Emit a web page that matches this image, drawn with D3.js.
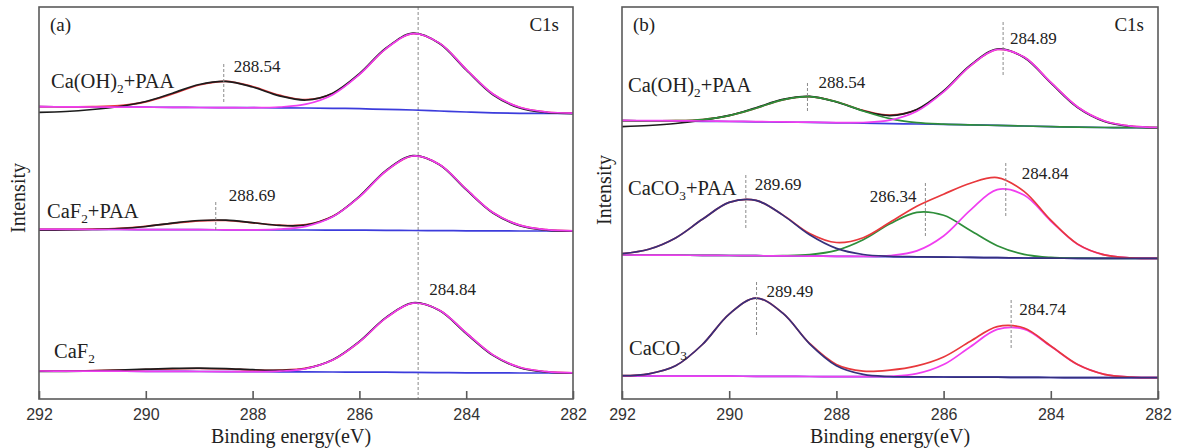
<!DOCTYPE html>
<html><head><meta charset="utf-8">
<script src="https://cdn.jsdelivr.net/npm/d3@7"></script>
<style>body{margin:0;background:#fff}svg{display:block}</style>
</head><body><svg id="c" width="1178" height="448"></svg>
<script>
// ---------- DATA ----------
const energy = [292,291.5,291,290.5,290,289.5,289,288.5,288,287.5,287,286.5,286,285.5,285,284.5,284,283.5,283,282.5,282];
const tickValues = [292,290,288,286,284,282];
const sampleNamesA = ["Ca(OH)2+PAA","CaF2+PAA","CaF2"];
const sampleNamesB = ["Ca(OH)2+PAA","CaCO3+PAA","CaCO3"];
const peaksA = [288.54, 288.69, 284.84];
const peaksB = [288.54, 284.89, 289.69, 286.34, 284.84, 289.49, 284.74];
const refLineA = 284.9;

// panel (a) – Ca(OH)2+PAA
const a1Base = [292.3,292.2,292.0,291.9,291.8,291.7,291.5,291.4,291.3,291.2,291.0,290.7,290.3,289.6,289.0,288.0,287.0,286.1,285.7,285.7,285.7];
const a1Fit  = [292.3,292.2,292.3,293.4,297.2,305.0,314.0,317.7,312.5,303.8,299.3,305.5,324.7,350.4,365.4,355.9,329.7,305.0,291.7,287.0,285.9];
const a1Peak = [292.3,292.2,292.0,291.9,291.8,291.7,291.5,291.4,291.3,292.0,294.8,304.3,324.5,350.4,365.4,355.9,329.7,305.0,291.7,287.0,285.9];
const a1Raw  = [286.7,287.5,289.5,292.5,297.5,305.8,314.5,317.6,312.0,303.2,299.0,305.8,325.3,351.0,365.8,355.5,329.0,304.2,291.0,286.5,285.4];
// panel (a) – CaF2+PAA
const a2Base = [169.7,169.6,169.5,169.5,169.4,169.3,169.3,169.2,169.1,169.0,169.0,168.9,168.8,168.7,168.5,168.4,168.2,168.1,168.0,168.0,168.0];
const a2Fit  = [169.7,169.7,169.9,170.7,172.7,175.7,178.2,178.5,176.2,173.8,174.3,182.7,202.2,228.0,243.0,234.6,209.8,186.5,173.9,169.3,168.2];
const a2Peak = [169.7,169.6,169.5,169.5,169.4,169.3,169.3,169.2,169.1,169.8,172.7,182.2,202.1,228.0,243.0,234.6,209.8,186.5,173.9,169.3,168.2];
const a2Raw  = [168.8,169.0,169.5,170.4,172.5,175.9,178.5,178.8,176.4,173.6,174.0,182.4,202.6,228.6,243.4,234.3,209.3,186.0,173.4,168.8,167.8];
// panel (a) – CaF2
const a3Base = [28.0,27.9,27.9,27.8,27.7,27.6,27.5,27.4,27.3,27.2,27.1,27.0,26.9,26.8,26.6,26.4,26.2,26.1,26.0,26.0,26.0];
const a3Fit  = [28.0,27.9,28.3,28.8,29.5,30.2,30.5,30.0,29.1,28.8,30.8,39.0,57.1,81.1,95.8,88.8,66.0,44.1,31.7,27.3,26.2];
const a3Peak = [28.0,27.9,27.9,27.8,27.7,27.6,27.5,27.4,27.3,27.8,30.4,38.9,57.1,81.1,95.8,88.8,66.0,44.1,31.7,27.3,26.2];
const a3Raw  = [27.5,27.6,28.1,28.9,29.8,30.6,30.9,30.4,29.3,28.6,30.5,39.2,57.6,81.6,96.2,88.5,65.5,43.6,31.3,27.0,25.8];

// panel (b) – Ca(OH)2+PAA
const b1Base  = [278.3,278.1,277.9,277.7,277.5,277.2,276.9,276.6,276.2,275.8,275.4,275.0,274.6,274.1,273.6,273.0,272.4,271.9,271.5,271.3,271.3];
const b1Fit   = [278.3,278.2,278.3,279.5,283.4,290.8,299.2,302.4,297.3,288.7,283.9,289.2,307.5,333.2,349.5,341.9,316.6,292.0,278.0,272.8,271.5];
const b1PeakC = [278.3,278.2,278.3,279.5,283.4,290.8,299.2,302.4,297.3,288.0,280.4,276.4,274.9,274.1,273.6,273.0,272.4,271.9,271.5,271.3,271.3];
const b1PeakA = [278.6,278.4,278.2,278.0,277.7,277.4,277.1,276.8,276.4,276.5,278.9,287.8,307.2,333.2,349.5,341.9,316.6,292.0,278.0,272.8,271.5];
const b1Raw   = [272.3,273.5,275.5,278.8,283.6,291.3,299.6,302.6,297.0,288.2,283.4,289.5,308.0,333.8,350.0,341.5,316.0,291.4,277.5,272.3,271.0];
// panel (b) – CaCO3+PAA
const b2Base  = [144.0,143.9,143.8,143.7,143.5,143.3,143.1,142.9,142.7,142.5,142.3,142.1,141.9,141.6,141.3,141.0,140.8,140.7,140.7,140.7,140.7];
const b2Fit   = [145.4,149.8,161.1,179.7,196.6,198.6,184.1,165.6,156.5,161.3,176.7,192.8,204.8,215.8,221.4,207.6,178.8,154.9,144.1,141.2,140.7];
const b2PeakO = [145.4,149.8,161.1,179.7,196.6,198.6,183.9,164.2,150.6,144.5,142.7,142.2,141.9,141.6,141.3,141.0,140.8,140.7,140.7,140.7,140.7];
const b2PeakC = [144.0,143.9,143.8,143.7,143.5,143.3,143.3,144.3,148.6,159.2,175.2,186.7,183.7,168.5,153.3,144.7,141.6,140.8,140.7,140.7,140.7];
const b2PeakA = [144.0,143.9,143.8,143.7,143.5,143.3,143.1,142.9,142.7,142.6,143.4,148.1,163.0,188.9,209.4,203.9,178.0,154.8,144.1,141.2,140.7];
// panel (b) – CaCO3
const b3Base  = [23.0,23.0,22.9,22.9,22.8,22.7,22.6,22.5,22.4,22.3,22.2,22.1,22.0,21.9,21.8,21.6,21.5,21.4,21.3,21.3,21.3];
const b3Fit   = [23.3,25.2,33.2,54.5,84.9,100.9,85.8,55.6,34.6,27.9,28.9,33.1,42.0,57.7,72.4,71.0,53.0,34.5,24.7,21.9,21.4];
const b3PeakO = [23.3,25.2,33.2,54.5,84.9,100.9,85.8,55.2,33.3,24.6,22.5,22.1,22.0,21.9,21.8,21.6,21.5,21.4,21.3,21.3,21.3];
const b3PeakA = [23.0,23.0,22.9,22.9,22.8,22.7,22.6,22.5,22.4,22.3,22.7,25.3,34.4,52.3,69.6,69.9,52.7,34.4,24.7,21.9,21.4];

// ---------- STYLE ----------
const C = {raw:"#1c1c1c", fit:"#e8383c", mag:"#f03ef0", blue:"#3c3cdc", green:"#2e8e3a", navy:"#36307c",
           frame:"#5a5a5a", dash:"#8a8a8a", text:"#222", tick:"#333"};
const serif = "'Liberation Serif','Times New Roman',serif";
const sans = "'Liberation Sans',Arial,sans-serif";

const svg = d3.select("#c");
const yTop = 7, yBottom = 399;
const y = d3.scaleLinear().domain([0, 392]).range([yBottom, yTop]);

const panels = [
  {key:"a", name:"(a)", range:[39,573], titleX:291, intX:25, intY:198,
   series:[[a1Base,C.blue],[a1Fit,C.fit],[a1Raw,C.raw],[a1Peak,C.mag],
           [a2Base,C.blue],[a2Fit,C.fit],[a2Raw,C.raw],[a2Peak,C.mag],
           [a3Base,C.blue],[a3Fit,C.fit],[a3Raw,C.raw],[a3Peak,C.mag]],
   samples:[[sampleNamesA[0],51,88],[sampleNamesA[1],47,218],[sampleNamesA[2],54,358]],
   annos:[[peaksA[0],335,296,10,327,"start"],[peaksA[1],197,168,13,198,"start"],[peaksA[2],null,null,8,104,"start"]]},
  {key:"b", name:"(b)", range:[622,1158], titleX:890, intX:611, intY:190,
   series:[[b1Base,C.blue],[b1Fit,C.fit],[b1Raw,C.raw],[b1PeakC,C.green],[b1PeakA,C.mag],
           [b2Base,C.blue],[b2PeakC,C.green],[b2PeakA,C.mag],[b2Fit,C.fit],[b2PeakO,C.navy],
           [b3Base,C.blue],[b3PeakA,C.mag],[b3Fit,C.fit],[b3PeakO,C.navy]],
   samples:[[sampleNamesB[0],628,92],[sampleNamesB[1],628,195],[sampleNamesB[2],629,355]],
   annos:[[peaksB[0],316,287,11,311,"start"],[peaksB[1],377,322,7,355,"start"],
          [peaksB[2],224,171,9,209,"start"],[peaksB[3],216,161,-9,197,"end"],
          [peaksB[4],236,181,16,220,"start"],[peaksB[5],117,64,10,102,"start"],
          [peaksB[6],99,51,8,84,"start"]]}
];

function addLabel(g, text, xp, yp, size) {
  const t = g.append("text").attr("x", xp).attr("y", yp)
    .attr("font-family", serif).attr("font-size", size).attr("fill", C.text);
  const parts = text.split(/(?<=[A-Za-z)])(\d)/);
  let shift = 0;
  parts.forEach((p, i) => {
    if (!p) return;
    if (i % 2 === 1) {
      t.append("tspan").attr("dy", 5 - shift).attr("font-size", size * 0.65).text(p);
      shift = 5;
    } else {
      t.append("tspan").attr("dy", -shift).text(p);
      shift = 0;
    }
  });
  return t;
}

panels.forEach(P => {
  const x = d3.scaleLinear().domain([292, 282]).range(P.range);
  const g = svg.append("g");
  const clipId = "clip" + P.key;
  svg.append("clipPath").attr("id", clipId).append("rect")
    .attr("x", P.range[0]).attr("y", yTop).attr("width", P.range[1]-P.range[0]).attr("height", yBottom-yTop);
  const plot = g.append("g").attr("clip-path", `url(#${clipId})`);

  if (P.key === "a") {
    plot.append("line").attr("x1", x(refLineA)).attr("x2", x(refLineA))
      .attr("y1", yTop).attr("y2", yBottom)
      .attr("stroke", C.dash).attr("stroke-width", 1).attr("stroke-dasharray", "3,2");
  }

  const line = d3.line().x((d, i) => x(energy[i])).y(d => y(d)).curve(d3.curveCatmullRom.alpha(0.5));
  P.series.forEach(([vals, col]) => {
    plot.append("path").attr("d", line(vals)).attr("fill", "none")
      .attr("stroke", col).attr("stroke-width", 1.7).attr("stroke-linejoin", "round");
  });

  P.annos.forEach(([e, y1, y2, dx, ly, anchor]) => {
    if (y1 !== null) {
      g.append("line").attr("x1", x(e)).attr("x2", x(e)).attr("y1", y(y1)).attr("y2", y(y2))
        .attr("stroke", C.dash).attr("stroke-width", 1).attr("stroke-dasharray", "3,2");
    }
    g.append("text").attr("x", x(e) + dx).attr("y", y(ly)).attr("text-anchor", anchor)
      .attr("font-family", serif).attr("font-size", 17).attr("fill", C.text).text(e.toFixed(2));
  });

  P.samples.forEach(([name, sx, sy]) => addLabel(g, name, sx, sy, 20.5));

  g.append("rect").attr("x", P.range[0]).attr("y", yTop).attr("width", P.range[1]-P.range[0])
    .attr("height", yBottom-yTop).attr("fill", "none").attr("stroke", C.frame).attr("stroke-width", 1.6);

  const ax = g.append("g").attr("transform", `translate(0,${yBottom})`)
    .call(d3.axisBottom(x).tickValues(tickValues).tickSizeInner(-8).tickSizeOuter(0).tickPadding(10).tickFormat(d3.format("d")));
  ax.select(".domain").remove();
  ax.selectAll(".tick line").attr("stroke", C.frame).attr("stroke-width", 1.6);
  ax.selectAll(".tick text").attr("font-family", sans).attr("font-size", 16).attr("fill", C.tick);

  g.append("text").attr("x", P.titleX).attr("y", 443).attr("text-anchor", "middle")
    .attr("font-family", serif).attr("font-size", 20).attr("fill", C.text).text("Binding energy(eV)");
  g.append("text").attr("transform", `translate(${P.intX},${P.intY}) rotate(-90)`).attr("text-anchor", "middle")
    .attr("font-family", serif).attr("font-size", 20).attr("fill", C.text).text("Intensity");
  g.append("text").attr("x", P.range[0] + 11).attr("y", 31)
    .attr("font-family", serif).attr("font-size", 19).attr("fill", C.text).text(P.name);
  g.append("text").attr("x", P.range[1] - 14).attr("y", 31).attr("text-anchor", "end")
    .attr("font-family", serif).attr("font-size", 19).attr("fill", C.text).text("C1s");
});
</script></body></html>
